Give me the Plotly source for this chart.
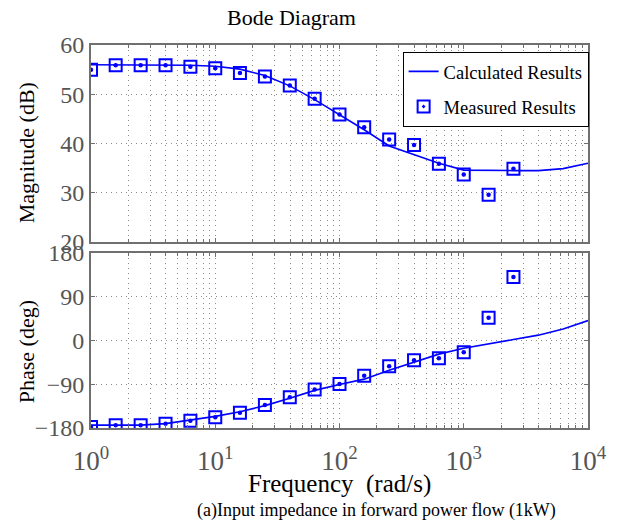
import plotly.graph_objects as go
from plotly.subplots import make_subplots

# ---- data ----
calc_freq = [1, 1.58, 2.51, 3.98, 6.31, 10, 15.8, 25.1, 39.8, 63.1, 100,
             158, 251, 398, 631, 1000, 1585, 2512, 3981, 6310, 10000]
calc_mag = [56.0, 56.0, 56.0, 56.0, 55.9, 55.7, 55.1, 53.8, 51.7, 48.9, 45.9,
            42.8, 39.5, 37.8, 36.0, 34.6, 34.5, 34.5, 34.5, 34.9, 36.0]
calc_phase = [-174, -174, -174, -171, -164, -156, -146.5, -134, -118.6, -102.6, -90.7,
              -79.5, -61.4, -44.7, -28, -16, -7.7, 2, 11, 23.7, 41]

meas_freq = [1, 1.58, 2.51, 3.98, 6.31, 10, 15.8, 25.1, 39.8, 63.1, 100,
             158, 251, 398, 631, 1000, 1585, 2512]
meas_mag = [55.0, 55.9, 55.9, 55.9, 55.6, 55.3, 54.3, 53.6, 51.8, 49.1, 45.9,
            43.3, 40.8, 39.7, 35.9, 33.7, 29.6, 34.9]
meas_phase = [-178, -174.4, -174.4, -171, -165, -158, -148.6, -132.6, -116.5, -101, -89.3,
              -72.6, -53, -40.5, -36.3, -24.4, 46.7, 130.5]

x_ticks = [1, 10, 100, 1000, 10000]
x_ticktext = ["10<sup>0</sup>", "10<sup>1</sup>", "10<sup>2</sup>", "10<sup>3</sup>", "10<sup>4</sup>"]
mag_ticks = [20, 30, 40, 50, 60]
phase_ticks = [-180, -90, 0, 90, 180]

minor_vals = [k * 10 ** d for d in range(4) for k in range(2, 10)]

BLUE = "#0000FF"
FONT = "Liberation Serif"
FRAME = "#707070"
GRID = "#8c8c8c"
DOT = "1px,4px"

fig = make_subplots(rows=2, cols=1, shared_xaxes=False)

fig.add_trace(go.Scatter(x=calc_freq, y=calc_mag, mode="lines",
                         line=dict(color=BLUE, width=1.6),
                         name="Calculated Results", legendgroup="a"), row=1, col=1)
fig.add_trace(go.Scatter(x=meas_freq, y=meas_mag, mode="markers",
                         marker=dict(symbol="square-open-dot", size=12, color=BLUE,
                                     line=dict(color=BLUE, width=2)),
                         name="Measured Results", legendgroup="b"), row=1, col=1)
fig.add_trace(go.Scatter(x=meas_freq, y=meas_mag, mode="markers",
                         marker=dict(symbol="circle", size=4.5, color=BLUE),
                         showlegend=False, hoverinfo="skip", legendgroup="b"), row=1, col=1)

fig.add_trace(go.Scatter(x=calc_freq, y=calc_phase, mode="lines",
                         line=dict(color=BLUE, width=1.6),
                         showlegend=False, legendgroup="a"), row=2, col=1)
fig.add_trace(go.Scatter(x=meas_freq, y=meas_phase, mode="markers",
                         marker=dict(symbol="square-open", size=12, color=BLUE,
                                     line=dict(color=BLUE, width=2)),
                         showlegend=False, legendgroup="b"), row=2, col=1)
fig.add_trace(go.Scatter(x=meas_freq, y=meas_phase, mode="markers",
                         marker=dict(symbol="circle", size=4.5, color=BLUE),
                         showlegend=False, hoverinfo="skip", legendgroup="b"), row=2, col=1)

xcommon = dict(type="log", range=[0, 4], showline=True, mirror="ticks", linecolor=FRAME,
               linewidth=2, ticks="inside", ticklen=4, tickcolor=FRAME,
               showgrid=True, gridcolor=GRID, griddash=DOT, gridwidth=1,
               tickvals=x_ticks, zeroline=False,
               minor=dict(tickvals=minor_vals, showgrid=True, gridcolor=GRID,
                          griddash=DOT, gridwidth=1, ticks="inside", ticklen=3,
                          tickcolor=FRAME))
fig.update_xaxes(**xcommon)
fig.update_xaxes(showticklabels=False, row=1, col=1)
fig.update_xaxes(ticktext=x_ticktext, showticklabels=True,
                 tickfont=dict(family=FONT, size=27, color="#555555"),
                 ticklabelstandoff=8, row=2, col=1)

ycommon = dict(showline=True, mirror="ticks", linecolor=FRAME, linewidth=2,
               ticks="inside", ticklen=4, tickcolor=FRAME,
               showgrid=True, gridcolor=GRID, griddash=DOT, gridwidth=1,
               zeroline=False, tickfont=dict(family=FONT, size=24, color="#555555"),
               ticklabelstandoff=0)
fig.update_yaxes(**ycommon)
fig.update_yaxes(range=[20, 60], tickvals=mag_ticks, row=1, col=1)
fig.update_yaxes(range=[-180, 180], tickvals=phase_ticks, row=2, col=1)

fig.update_layout(
    width=619, height=524,
    margin=dict(l=91, r=29, t=45, b=96),
    paper_bgcolor="white", plot_bgcolor="white",
    font=dict(family=FONT, color="black"),
    xaxis=dict(domain=[0, 1]),
    yaxis=dict(domain=[0.4856, 1]),
    xaxis2=dict(domain=[0, 1]),
    yaxis2=dict(domain=[0, 0.4569]),
    legend=dict(x=0.627, y=0.982, xanchor="left", yanchor="top",
                bordercolor="black", borderwidth=1, bgcolor="white",
                font=dict(family=FONT, size=18.5, color="black"),
                traceorder="grouped", tracegroupgap=8, itemwidth=30),
    showlegend=True,
)

ann = [
    dict(text="Bode Diagram", x=292, y=18, size=22),
    dict(text="Frequency  (rad/s)", x=340, y=484, size=25),
    dict(text="(a)Input impedance in forward power flow (1kW)", x=378, y=510, size=18),
]
for a in ann:
    fig.add_annotation(text=a["text"], xref="paper", yref="paper",
                       x=(a["x"] - 91) / 499, y=1 - (a["y"] - 45) / 383,
                       xanchor="center", yanchor="middle", showarrow=False,
                       font=dict(family=FONT, size=a["size"], color="black"))
for txt, yc in [("Magnitude (dB)", 153), ("Phase (deg)", 352)]:
    fig.add_annotation(text=txt, xref="paper", yref="paper",
                       x=(26 - 91) / 499, y=1 - (yc - 45) / 383,
                       xanchor="center", yanchor="middle", showarrow=False, textangle=-90,
                       font=dict(family=FONT, size=22, color="black"))

fig.write_html("out.html")
